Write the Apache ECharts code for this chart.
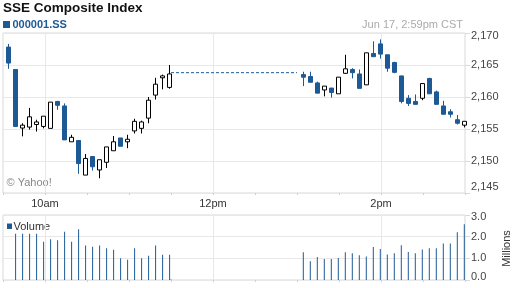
<!DOCTYPE html>
<html><head><meta charset="utf-8">
<script src="https://cdn.jsdelivr.net/npm/echarts@6/dist/echarts.min.js"></script>
<style>html,body{margin:0;padding:0;background:#fff}#c{width:512px;height:288px}</style>
</head><body><div id="c"></div>
<script>
// ---- data ----
const times = [
  '09:34','09:39','09:44','09:49','09:54','09:59','10:04','10:09','10:14','10:19','10:24','10:29',
  '10:34','10:39','10:44','10:49','10:54','10:59','11:04','11:09','11:14','11:19','11:24','11:29',
  '13:04:30','13:09:30','13:14:30','13:19:30','13:24:30','13:29:30','13:34:30','13:39:30','13:44:30','13:49:30','13:54:30','13:59:30',
  '14:04:30','14:09:30','14:14:30','14:19:30','14:24:30','14:29:30','14:34:30','14:39:30','14:44:30','14:49:30','14:54:30','14:59:30'
];
const opens = [2167.8,2164.3,2155.15,2155.3,2155.7,2155.4,2155.1,2159.3,2158.6,2153.0,2153.2,2147.8,
  2150.7,2148.6,2149.8,2151.6,2153.6,2153.0,2154.7,2155.1,2156.7,2160.3,2163.0,2161.5,
  2163.5,2163.2,2162.2,2161.1,2161.4,2160.5,2163.7,2164.3,2163.6,2161.9,2166.8,2168.3,
  2166.6,2165.4,2163.3,2159.8,2159.3,2159.8,2162.9,2160.8,2158.6,2157.7,2156.45,2155.6];
const closes = [2165.3,2155.4,2155.6,2156.9,2156.1,2157.0,2159.2,2158.7,2153.3,2153.7,2149.6,2150.4,
  2149.1,2150.2,2152.2,2153.0,2152.3,2153.4,2156.2,2156.1,2159.5,2162.0,2163.3,2163.6,
  2163.1,2162.3,2160.6,2161.7,2160.7,2163.1,2164.4,2163.8,2161.35,2166.9,2166.3,2166.7,
  2164.5,2163.85,2159.3,2159.0,2158.85,2162.1,2160.5,2158.85,2157.3,2157.3,2155.9,2156.2];
const lows = [2164.4,2155.4,2153.85,2154.9,2154.6,2155.1,2155.1,2158.0,2153.3,2153.0,2148.0,2147.8,
  2148.5,2147.3,2148.9,2151.6,2152.3,2152.0,2154.3,2154.3,2155.9,2159.6,2161.2,2161.3,
  2161.7,2162.3,2160.6,2160.1,2159.9,2160.5,2163.6,2162.9,2161.35,2161.9,2166.3,2166.0,
  2163.95,2163.7,2159.0,2158.6,2158.85,2159.5,2160.5,2158.85,2157.3,2156.8,2155.7,2155.25];
const highs = [2168.3,2164.3,2155.9,2158.3,2156.45,2157.0,2159.2,2159.4,2159.0,2154.1,2153.2,2151.1,
  2150.7,2150.2,2152.2,2153.9,2153.6,2154.1,2156.6,2156.3,2160.0,2163.0,2163.5,2165.0,
  2163.95,2163.95,2162.4,2161.7,2161.4,2163.1,2166.6,2164.5,2164.3,2166.9,2168.7,2169.0,
  2166.6,2165.5,2163.3,2160.3,2160.4,2162.1,2163.0,2161.0,2159.4,2158.1,2157.2,2156.2];
const volumes = [null,2.14,2.14,2.14,2.14,1.77,1.88,1.83,2.23,1.77,2.34,1.59,
  1.54,1.59,1.46,1.40,1.00,0.94,1.46,1.00,1.12,1.59,1.17,1.17,
  1.28,0.86,1.06,0.97,0.97,1.01,1.28,1.23,1.14,1.09,1.52,1.43,
  1.18,1.23,1.60,1.29,1.23,1.41,1.47,1.47,1.69,1.69,2.20,2.57];
const lunchTimes = ['11:30','13:00'];
const lunchLevel = 2163.8;
const lunchVolume = 0.02;
const timeTickValues = ['10:00','12:00','14:00'];
const timeTickLabels = ['10am','12pm','2pm'];
const priceMin = 2145, priceMax = 2170, priceStep = 5;
const volMin = 0, volMax = 3, volStep = 1;
const sessionStart = '09:30', sessionEnd = '15:00';

// ---- helpers ----
function toMin(s){const p=s.split(':').map(Number);return p[0]*60+p[1]+(p[2]||0)/60;}
const BLUE = '#1d5a95';
const FONT = '"Liberation Sans", Arial, sans-serif';
const labelMap = {};
timeTickValues.forEach((t,i)=>{labelMap[toMin(t)] = timeTickLabels[i];});
const candleData = times.map((t,i)=>[toMin(t), opens[i], closes[i], lows[i], highs[i]]);
const volData = times.map((t,i)=>[toMin(t), volumes[i]]).filter(d=>d[1]!=null);
volData.push([toMin(lunchTimes[0]), lunchVolume]);
const lunchData = lunchTimes.map(t=>[toMin(t), lunchLevel]);
const xMin = toMin(sessionStart), xMax = toMin(sessionEnd);
const clear = 'rgba(0,0,0,0)';
const gridLineColors = [clear,'#e8e8e8',clear,clear];

function xAxisCfg(gi, showLabel){
  return {type:'value', gridIndex:gi, min:xMin, max:xMax, interval:30,
    axisLine:{show:false},
    axisTick:{show:true, length:2, lineStyle:{color:'#cfcfcf'}},
    axisLabel:{show:showLabel, fontSize:11, fontFamily:FONT, color:'#333', margin:5,
      formatter:v=>labelMap[v]||''},
    splitLine:{show:true, lineStyle:{color:gridLineColors, width:1}}};
}

const chart = echarts.init(document.getElementById('c'), null, {renderer:'canvas'});
chart.setOption({
  animation:false,
  backgroundColor:'#fff',
  grid:[
    {left:3, top:33, width:462, height:160, show:true, borderColor:'#d9d9d9', borderWidth:1},
    {left:3, top:215, width:462, height:65, show:true, borderColor:'#d9d9d9', borderWidth:1}
  ],
  xAxis:[xAxisCfg(0,true), xAxisCfg(1,false)],
  yAxis:[
    {type:'value', gridIndex:0, position:'right', min:priceMin, max:priceMax, interval:priceStep,
     axisLine:{show:false}, axisTick:{show:true, length:5, lineStyle:{color:'#d9d9d9'}},
     splitLine:{show:true, lineStyle:{color:'#e8e8e8'}},
     axisLabel:{margin:6, fontSize:11, fontFamily:FONT, color:'#444',
       formatter:v=>{const s=v.toLocaleString('en-US'); if(v===priceMax) return '{t|'+s+'}'; if(v===priceMin) return '{b|'+s+'}'; return s;},
       rich:{t:{padding:[5,0,0,0],fontSize:11,fontFamily:FONT,color:'#444'}, b:{padding:[0,0,13,0],fontSize:11,fontFamily:FONT,color:'#444'}}}},
    {type:'value', gridIndex:1, position:'right', min:volMin, max:volMax, interval:volStep,
     axisLine:{show:false}, axisTick:{show:true, length:5, lineStyle:{color:'#d9d9d9'}},
     splitLine:{show:true, lineStyle:{color:'#e8e8e8'}},
     axisLabel:{margin:6, fontSize:11, fontFamily:FONT, color:'#444',
       formatter:v=>{const s=v.toFixed(1); if(v===volMax) return '{t|'+s+'}'; if(v===volMin) return '{b|'+s+'}'; return s;},
       rich:{t:{padding:[4,0,0,0],fontSize:11,fontFamily:FONT,color:'#444'}, b:{padding:[0,0,6,0],fontSize:11,fontFamily:FONT,color:'#444'}}}}
  ],
  series:[
    {type:'candlestick', xAxisIndex:0, yAxisIndex:0, data:candleData, encode:{x:0,y:[1,2,3,4]},
     barWidth:5, clip:true,
     itemStyle:{color:'#fff', borderColor:'#000', color0:BLUE, borderColor0:BLUE, borderWidth:1}},
    {type:'line', xAxisIndex:0, yAxisIndex:0, data:lunchData, symbol:'none',
     lineStyle:{color:BLUE, width:1, type:[3,2]}},
    {type:'bar', xAxisIndex:1, yAxisIndex:1, data:volData, barWidth:1, itemStyle:{color:BLUE}}
  ],
  graphic:[
    {type:'text', x:3, y:8, style:{text:'SSE Composite Index', font:'bold 13.5px '+FONT, fill:'#111', align:'left', verticalAlign:'middle'}},
    {type:'rect', shape:{x:3, y:21, width:7, height:7}, style:{fill:BLUE}},
    {type:'text', x:12.5, y:24.5, style:{text:'000001.SS', font:'bold 11px '+FONT, fill:BLUE, align:'left', verticalAlign:'middle'}},
    {type:'text', x:463, y:24.5, style:{text:'Jun 17, 2:59pm CST', font:'11px '+FONT, fill:'#aaa', align:'right', verticalAlign:'middle'}},
    {type:'text', x:6.5, y:183, style:{text:'© Yahoo!', font:'11px '+FONT, fill:'#888', align:'left', verticalAlign:'middle'}},
    {type:'rect', shape:{x:7, y:223.5, width:5, height:5.5}, style:{fill:BLUE}},
    {type:'text', x:13.5, y:227, style:{text:'Volume', font:'11px '+FONT, fill:'#333', align:'left', verticalAlign:'middle'}},
    {type:'text', x:506.5, y:248.5, rotation:Math.PI/2, style:{text:'Millions', font:'11px '+FONT, fill:'#333', align:'center', verticalAlign:'middle'}}
  ]
});
</script></body></html>
